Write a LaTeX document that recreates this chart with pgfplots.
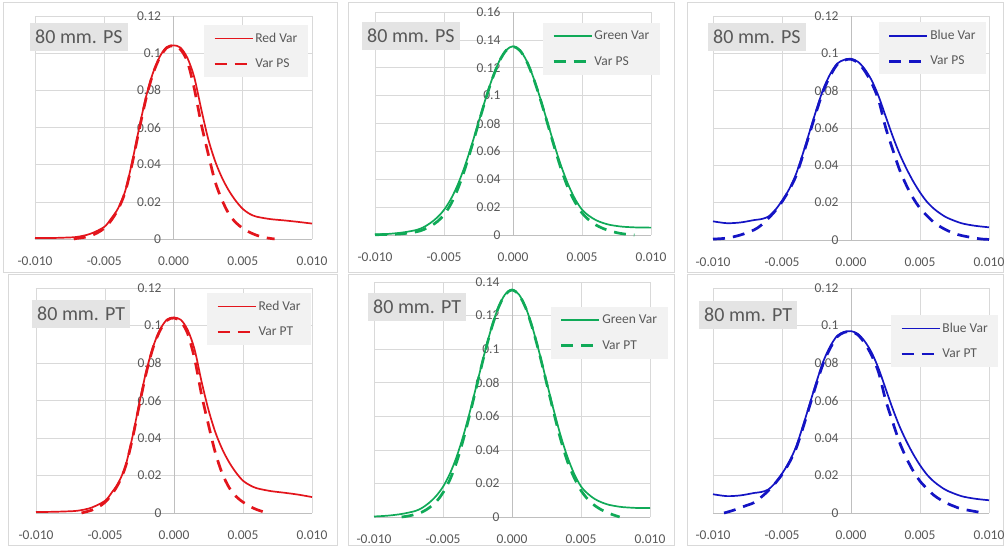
\documentclass[border=0pt]{standalone}
\usepackage{fontspec}
\setmainfont{Carlito}
\usepackage{pgfplots}
\pgfplotsset{compat=1.18}

\definecolor{cred}{HTML}{E3151C}
\definecolor{cgreen}{HTML}{10AA58}
\definecolor{cblue}{HTML}{1414C4}
\definecolor{gridc}{HTML}{D9D9D9}
\definecolor{axisc}{HTML}{BFBFBF}
\definecolor{txt}{HTML}{595959}
\definecolor{legbg}{HTML}{F2F2F2}
\definecolor{labbg}{HTML}{E4E4E4}
\definecolor{framec}{HTML}{D9D9D9}

\tikzset{
  solidcurve/.style={line width=1.7pt, smooth},
  dashcurve/.style={line width=2.7pt, dash pattern=on 12pt off 8pt, smooth},
  labbox/.style={fill=labbg, text=txt, anchor=north west, inner xsep=5pt,
    minimum height=28pt, font=\fontsize{20}{24}\selectfont},
}

\pgfplotsset{
  panel/.style={
    scale only axis, width=276pt, anchor=south west,
    xmin=-0.01, xmax=0.01, ymin=0,
    axis x line*=bottom, axis y line*=middle,
    hide obscured x ticks=false, hide obscured y ticks=false,
    axis line style={axisc, line width=0.8pt},
    grid=major, major grid style={gridc, line width=0.6pt},
    major tick length=0pt,
    xtick={-0.01,-0.005,0,0.005,0.01}, ytick distance=0.02,
    scaled x ticks=false, scaled y ticks=false,
    xticklabel={\pgfmathprintnumber[fixed,fixed zerofill,precision=3,assume math mode=true]{\tick}},
    yticklabel={\pgfmathprintnumber[fixed,precision=2,assume math mode=true]{\tick}},
    tick label style={font=\fontsize{13.5}{16}\selectfont, text=txt},
    xticklabel style={yshift=-14pt},
    yticklabel style={xshift=-9pt},
    legend style={draw=none, fill=legbg, font=\fontsize{13.5}{16}\selectfont,
      text=txt, anchor=north west, inner xsep=9pt, inner ysep=5pt,
      row sep=9pt, nodes={inner xsep=1.5pt, inner ysep=3pt}},
    legend cell align=left,
    legend image code/.code={\draw[##1] (0pt,0pt) -- (38pt,0pt);},
    clip=false,
  },
}

\begin{document}
\begin{tikzpicture}
\fill[white] (0pt,0pt) rectangle (1005pt,546pt);
\path[use as bounding box] (0pt,0pt) rectangle (1005pt,546pt);
% panel frames
\draw[framec, line width=0.8pt] (3pt,274pt) rectangle (337pt,544pt);
\draw[framec, line width=0.8pt] (348pt,274pt) rectangle (674pt,544pt);
\draw[framec, line width=0.8pt] (687pt,274pt) rectangle (1003pt,544pt);
\draw[framec, line width=0.8pt] (8pt,1pt) rectangle (337pt,272pt);
\draw[framec, line width=0.8pt] (348pt,1pt) rectangle (674pt,272pt);
\draw[framec, line width=0.8pt] (687pt,1pt) rectangle (1003pt,272pt);

% ---- top left: red, PS
\begin{axis}[panel, at={(35pt,307pt)}, width=277pt, height=223pt, ymax=0.12,
  legend style={at={(0.610,0.960)}}]
\addplot[color=cred, solidcurve] coordinates {
 (-0.010,0.0005) (-0.009,0.0005) (-0.008,0.0007) (-0.007,0.0011) (-0.006,0.0028)
 (-0.005,0.0065) (-0.0045,0.011) (-0.004,0.0165) (-0.0035,0.0255) (-0.003,0.041)
 (-0.0025,0.059) (-0.002,0.076) (-0.0015,0.089) (-0.001,0.098) (-0.0005,0.1032)
 (0,0.1042) (0.0005,0.1030) (0.001,0.0975) (0.0015,0.087) (0.002,0.070)
 (0.0025,0.054) (0.003,0.042) (0.0035,0.033) (0.004,0.026) (0.0045,0.0205)
 (0.005,0.0162) (0.0055,0.0135) (0.006,0.0120) (0.007,0.0107) (0.008,0.0100)
 (0.009,0.0092) (0.010,0.0083)};
\addlegendentry{Red Var}
\addplot[color=cred, dashcurve] coordinates {
 (-0.0072,0) (-0.007,0.0003) (-0.0065,0.0008) (-0.006,0.0017) (-0.0055,0.0033)
 (-0.005,0.0058) (-0.0045,0.010) (-0.004,0.016) (-0.0035,0.025) (-0.003,0.040)
 (-0.0025,0.058) (-0.002,0.075) (-0.0015,0.0885) (-0.001,0.0975) (-0.0005,0.1028)
 (0,0.1040) (0.0005,0.1020) (0.001,0.0955) (0.0015,0.081) (0.002,0.062)
 (0.0025,0.046) (0.003,0.031) (0.0035,0.021) (0.004,0.0135) (0.0045,0.0088)
 (0.005,0.0058) (0.0055,0.0036) (0.006,0.0020) (0.0065,0.0009) (0.007,0.0003)
 (0.0073,0)};
\addlegendentry{Var PS}
\end{axis}

% ---- top middle: green, PS
\begin{axis}[panel, at={(375pt,311pt)}, height=223pt, ymax=0.16,
  legend style={at={(0.609,0.951)}}]
\addplot[color=cgreen, solidcurve] coordinates {
 (-0.010,0.0003) (-0.009,0.0008) (-0.008,0.0018) (-0.007,0.0036) (-0.0065,0.0055)
 (-0.006,0.0085) (-0.0055,0.0125) (-0.005,0.018) (-0.0045,0.0258) (-0.004,0.0362)
 (-0.0035,0.0492) (-0.003,0.0644) (-0.0025,0.0808) (-0.002,0.0973) (-0.0015,0.1124)
 (-0.001,0.1247) (-0.0005,0.1326) (0,0.1354) (0.0005,0.1326) (0.001,0.1247)
 (0.0015,0.1124) (0.002,0.0973) (0.0025,0.0808) (0.003,0.0644) (0.0035,0.0492)
 (0.004,0.0362) (0.0045,0.0258) (0.005,0.0182) (0.0055,0.0138) (0.006,0.0107)
 (0.0065,0.0087) (0.007,0.0073) (0.0075,0.0065) (0.008,0.0059) (0.009,0.0054)
 (0.010,0.0053)};
\addlegendentry{Green Var}
\addplot[color=cgreen, dashcurve] coordinates {
 (-0.010,0.0002) (-0.009,0.0004) (-0.008,0.0009) (-0.007,0.0023) (-0.0065,0.0038)
 (-0.006,0.0062) (-0.0055,0.0095) (-0.005,0.0145) (-0.0045,0.0222) (-0.004,0.0330)
 (-0.0035,0.047) (-0.003,0.063) (-0.0025,0.0800) (-0.002,0.0968) (-0.0015,0.1120)
 (-0.001,0.1244) (-0.0005,0.1324) (0,0.1352) (0.0005,0.1324) (0.001,0.1244)
 (0.0015,0.1120) (0.002,0.0968) (0.0025,0.0800) (0.003,0.063) (0.0035,0.047)
 (0.004,0.0335) (0.0045,0.0235) (0.005,0.0158) (0.0055,0.0108) (0.006,0.0072)
 (0.0065,0.0048) (0.007,0.0030) (0.0075,0.0017) (0.008,0.0008) (0.0088,0)};
\addlegendentry{Var PS}
\end{axis}

% ---- top right: blue, PS
\begin{axis}[panel, at={(713pt,306pt)}, height=224pt, ymax=0.12,
  legend style={at={(0.601,0.973)}}]
\addplot[color=cblue, solidcurve] coordinates {
 (-0.010,0.0100) (-0.009,0.0090) (-0.008,0.0094) (-0.007,0.0107) (-0.0065,0.0112)
 (-0.006,0.0125) (-0.0055,0.016) (-0.005,0.021) (-0.0045,0.027) (-0.004,0.035)
 (-0.0035,0.046) (-0.003,0.058) (-0.0025,0.070) (-0.002,0.081) (-0.0015,0.089)
 (-0.001,0.0945) (-0.0005,0.0965) (0,0.0970) (0.0005,0.0955) (0.001,0.0915)
 (0.0015,0.0855) (0.002,0.077) (0.0025,0.0665) (0.003,0.0560) (0.0035,0.0465)
 (0.004,0.0385) (0.0045,0.0315) (0.005,0.0255) (0.0055,0.0205) (0.006,0.0168)
 (0.0065,0.0140) (0.007,0.0118) (0.008,0.0090) (0.009,0.0076) (0.010,0.0068)};
\addlegendentry{Blue Var}
\addplot[color=cblue, dashcurve] coordinates {
 (-0.010,0.0005) (-0.009,0.0010) (-0.008,0.0027) (-0.007,0.0055) (-0.0065,0.008)
 (-0.006,0.0115) (-0.0055,0.0155) (-0.005,0.0205) (-0.0045,0.0265) (-0.004,0.034)
 (-0.0035,0.045) (-0.003,0.057) (-0.0025,0.069) (-0.002,0.080) (-0.0015,0.088)
 (-0.001,0.094) (-0.0005,0.0963) (0,0.0968) (0.0005,0.095) (0.001,0.0905)
 (0.0015,0.084) (0.002,0.075) (0.0025,0.0605) (0.003,0.049) (0.0035,0.038)
 (0.004,0.0295) (0.0045,0.0225) (0.005,0.0170) (0.0055,0.0130) (0.006,0.0095)
 (0.0065,0.0070) (0.007,0.0050) (0.0075,0.0035) (0.008,0.0024) (0.009,0.0010)
 (0.0095,0.0005) (0.010,0.0003)};
\addlegendentry{Var PS}
\end{axis}

% ---- bottom left: red, PT
\begin{axis}[panel, at={(36pt,33pt)}, height=225pt, ymax=0.12,
  legend style={at={(0.620,0.978)}}]
\addplot[color=cred, solidcurve] coordinates {
 (-0.010,0.0005) (-0.009,0.0006) (-0.008,0.0008) (-0.007,0.0012) (-0.006,0.0028)
 (-0.005,0.0065) (-0.0045,0.011) (-0.004,0.0165) (-0.0035,0.0255) (-0.003,0.041)
 (-0.0025,0.059) (-0.002,0.076) (-0.0015,0.089) (-0.001,0.098) (-0.0005,0.1032)
 (0,0.1042) (0.0005,0.1030) (0.001,0.0975) (0.0015,0.087) (0.002,0.070)
 (0.0025,0.055) (0.003,0.043) (0.0035,0.034) (0.004,0.027) (0.0045,0.0215)
 (0.005,0.0172) (0.0055,0.0148) (0.006,0.0132) (0.007,0.0117) (0.008,0.0108)
 (0.009,0.0098) (0.010,0.0085)};
\addlegendentry{Red Var}
\addplot[color=cred, dashcurve] coordinates {
 (-0.0067,0) (-0.0065,0.0004) (-0.006,0.0014) (-0.0055,0.0031)
 (-0.005,0.0057) (-0.0045,0.010) (-0.004,0.016) (-0.0035,0.025) (-0.003,0.040)
 (-0.0025,0.058) (-0.002,0.075) (-0.0015,0.0885) (-0.001,0.0975) (-0.0005,0.1028)
 (0,0.1040) (0.0005,0.1020) (0.001,0.0955) (0.0015,0.082) (0.002,0.063)
 (0.0025,0.047) (0.003,0.032) (0.0035,0.021) (0.004,0.0135) (0.0045,0.0088)
 (0.005,0.0058) (0.0055,0.0035) (0.006,0.0018) (0.0065,0.0006) (0.0068,0)};
\addlegendentry{Var PT}
\end{axis}

% ---- bottom middle: green, PT
\begin{axis}[panel, at={(374pt,29pt)}, height=235pt, ymax=0.14,
  legend style={at={(0.641,0.894)}}]
\addplot[color=cgreen, solidcurve] coordinates {
 (-0.010,0.0003) (-0.009,0.0008) (-0.008,0.0018) (-0.007,0.0036) (-0.0065,0.0055)
 (-0.006,0.0085) (-0.0055,0.0125) (-0.005,0.018) (-0.0045,0.0258) (-0.004,0.0362)
 (-0.0035,0.0492) (-0.003,0.0644) (-0.0025,0.0808) (-0.002,0.0973) (-0.0015,0.1124)
 (-0.001,0.1247) (-0.0005,0.1326) (0,0.1354) (0.0005,0.1326) (0.001,0.1247)
 (0.0015,0.1124) (0.002,0.0973) (0.0025,0.0808) (0.003,0.0644) (0.0035,0.0492)
 (0.004,0.0362) (0.0045,0.0258) (0.005,0.0182) (0.0055,0.0138) (0.006,0.0107)
 (0.0065,0.0087) (0.007,0.0073) (0.0075,0.0065) (0.008,0.0059) (0.009,0.0054)
 (0.010,0.0053)};
\addlegendentry{Green Var}
\addplot[color=cgreen, dashcurve] coordinates {
 (-0.0080,0) (-0.0075,0.0006) (-0.007,0.0016) (-0.0065,0.0030) (-0.006,0.0055)
 (-0.0055,0.0090) (-0.005,0.0145) (-0.0045,0.0222) (-0.004,0.0330)
 (-0.0035,0.047) (-0.003,0.063) (-0.0025,0.0800) (-0.002,0.0968) (-0.0015,0.1120)
 (-0.001,0.1244) (-0.0005,0.1324) (0,0.1352) (0.0005,0.1324) (0.001,0.1244)
 (0.0015,0.1120) (0.002,0.0968) (0.0025,0.0800) (0.003,0.063) (0.0035,0.047)
 (0.004,0.0335) (0.0045,0.0235) (0.005,0.0158) (0.0055,0.0105) (0.006,0.0068)
 (0.0065,0.0042) (0.007,0.0023) (0.0075,0.0008) (0.0078,0)};
\addlegendentry{Var PT}
\end{axis}

% ---- bottom right: blue, PT
\begin{axis}[panel, at={(713pt,33pt)}, height=225pt, ymax=0.12,
  legend style={at={(0.645,0.880)}}]
\addplot[color=cblue, solidcurve] coordinates {
 (-0.010,0.0100) (-0.009,0.0090) (-0.008,0.0094) (-0.007,0.0107) (-0.0065,0.0112)
 (-0.006,0.0125) (-0.0055,0.016) (-0.005,0.021) (-0.0045,0.027) (-0.004,0.035)
 (-0.0035,0.046) (-0.003,0.058) (-0.0025,0.070) (-0.002,0.081) (-0.0015,0.089)
 (-0.001,0.0945) (-0.0005,0.0965) (0,0.0970) (0.0005,0.0955) (0.001,0.0915)
 (0.0015,0.0855) (0.002,0.077) (0.0025,0.0665) (0.003,0.0560) (0.0035,0.0465)
 (0.004,0.0385) (0.0045,0.0315) (0.005,0.0255) (0.0055,0.0205) (0.006,0.0168)
 (0.0065,0.0140) (0.007,0.0118) (0.008,0.0090) (0.009,0.0076) (0.010,0.0068)};
\addlegendentry{Blue Var}
\addplot[color=cblue, dashcurve] coordinates {
 (-0.0092,0) (-0.009,0.0004) (-0.0085,0.0015) (-0.008,0.0029) (-0.0075,0.0042)
 (-0.007,0.0056) (-0.0065,0.0085) (-0.006,0.0118) (-0.0055,0.0158) (-0.005,0.0205)
 (-0.0045,0.0265) (-0.004,0.034) (-0.0035,0.045) (-0.003,0.057) (-0.0025,0.069)
 (-0.002,0.080) (-0.0015,0.088) (-0.001,0.094) (-0.0005,0.0963) (0,0.0968)
 (0.0005,0.095) (0.001,0.0905) (0.0015,0.084) (0.002,0.075) (0.0025,0.0605)
 (0.003,0.049) (0.0035,0.038) (0.004,0.0295) (0.0045,0.0225) (0.005,0.0170)
 (0.0055,0.0130) (0.006,0.0095) (0.0065,0.0070) (0.007,0.0050) (0.0075,0.0035)
 (0.008,0.0022) (0.009,0.0008) (0.0095,0.0002) (0.0097,0)};
\addlegendentry{Var PT}
\end{axis}

% panel labels
\node[labbox] at (30pt,523pt) {80 mm. PS};
\node[labbox] at (362pt,524pt) {80 mm. PS};
\node[labbox] at (708pt,523pt) {80 mm. PS};
\node[labbox] at (32pt,246pt) {80 mm. PT};
\node[labbox] at (368pt,253pt) {80 mm. PT};
\node[labbox] at (699pt,245pt) {80 mm. PT};
\end{tikzpicture}
\end{document}
